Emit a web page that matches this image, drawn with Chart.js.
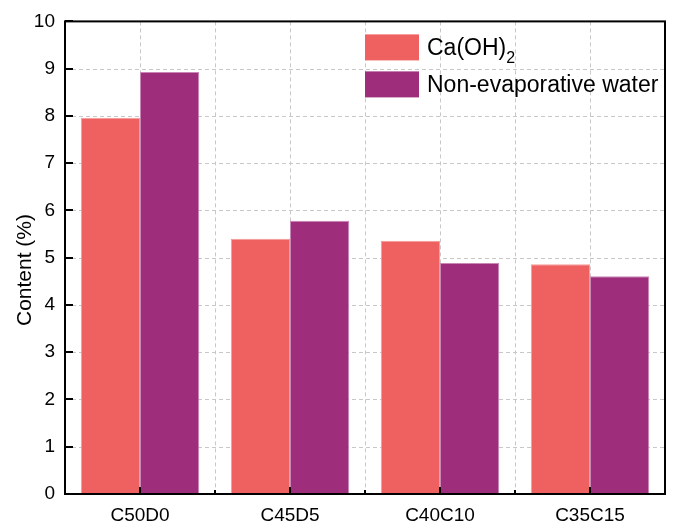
<!DOCTYPE html>
<html>
<head>
<meta charset="utf-8">
<script src="https://cdn.jsdelivr.net/npm/chart.js@4.4.1/dist/chart.umd.min.js"></script>
<style>
  html, body { margin: 0; padding: 0; background: #fff; }
  #wrap { width: 676px; height: 526px; }
</style>
</head>
<body>
<div id="wrap"><canvas id="myChart"></canvas></div>
<script>
// mixes and measured contents
const mixes = ['C50D0', 'C45D5', 'C40C10', 'C35C15'];
const caOH2 = [7.96, 5.40, 5.36, 4.86];
const nonEvapWater = [8.93, 5.78, 4.89, 4.61];
const yTicks = [0, 1, 2, 3, 4, 5, 6, 7, 8, 9, 10];
const yTitle = 'Content (%)';

const FONT = "'Liberation Sans', Arial, sans-serif";
const RED = '#EF6160';
const PURPLE = '#9E2D7C';

// dashed grid behind the bars, frame and inward ticks on top
const framePlugin = {
    id: 'frame',
    beforeDatasetsDraw(chart)
    {
        const ctx = chart.ctx, a = chart.chartArea;
        const x = chart.scales.x, y = chart.scales.y;
        ctx.save();
        ctx.strokeStyle = '#c8c8c8';
        ctx.lineWidth = 1;
        ctx.setLineDash([4, 3]);
        yTicks.slice(1, -1).forEach(v => {
            const py = Math.round(y.getPixelForValue(v)) + 0.5;
            ctx.beginPath(); ctx.moveTo(a.left, py); ctx.lineTo(a.right, py); ctx.stroke();
        });
        const half = (x.getPixelForValue(1) - x.getPixelForValue(0)) / 2;
        mixes.forEach((m, i) => {
            const c = x.getPixelForValue(i);
            [c, c + half].forEach(px => {
                if (px >= a.right - 1) return;
                px = Math.round(px) + 0.5;
                ctx.beginPath(); ctx.moveTo(px, a.top); ctx.lineTo(px, a.bottom); ctx.stroke();
            });
        });
        ctx.restore();
    },
    afterDatasetsDraw(chart)
    {
        const ctx = chart.ctx, a = chart.chartArea;
        const x = chart.scales.x, y = chart.scales.y;
        ctx.save();
        ctx.strokeStyle = '#000';
        ctx.lineWidth = 2;
        ctx.strokeRect(a.left, a.top, a.right - a.left, a.bottom - a.top);
        yTicks.forEach(v => {
            const py = Math.round(y.getPixelForValue(v));
            ctx.beginPath(); ctx.moveTo(a.left, py); ctx.lineTo(a.left + 8, py); ctx.stroke();
        });
        const half = (x.getPixelForValue(1) - x.getPixelForValue(0)) / 2;
        mixes.forEach((m, i) => {
            const c = Math.round(x.getPixelForValue(i));
            ctx.beginPath(); ctx.moveTo(c, a.bottom); ctx.lineTo(c, a.bottom - 7); ctx.stroke();
            const b = Math.round(x.getPixelForValue(i) + half);
            if (b < a.right - 1) {
                ctx.beginPath(); ctx.moveTo(b, a.bottom); ctx.lineTo(b, a.bottom - 4); ctx.stroke();
            }
        });

        // rotated axis title
        ctx.translate(25, 270);
        ctx.rotate(-Math.PI / 2);
        ctx.fillStyle = '#000';
        ctx.font = '21px ' + FONT;
        ctx.textAlign = 'center';
        ctx.textBaseline = 'middle';
        ctx.fillText(yTitle, 0, 0);
        ctx.restore();
    }
};

// legend box in the upper right, with a subscript for Ca(OH)2
const legendPlugin = {
    id: 'cornerLegend',
    afterDraw(chart)
    {
        const ctx = chart.ctx, a = chart.chartArea;
        const x0 = a.right - 300, y0 = a.top + 13;
        ctx.save();
        chart.data.datasets.forEach((ds, i) => {
            const top = y0 + i * 37;
            ctx.fillStyle = ds.backgroundColor;
            ctx.fillRect(x0, top, 54, 26);
            ctx.fillStyle = '#000';
            ctx.font = '23px ' + FONT;
            ctx.textBaseline = 'middle';
            ctx.textAlign = 'left';
            const parts = ds.label.split('_');
            ctx.fillText(parts[0], x0 + 62, top + 14);
            if (parts[1]) {
                const w = ctx.measureText(parts[0]).width;
                ctx.font = '16px ' + FONT;
                ctx.fillText(parts[1], x0 + 62 + w, top + 24);
            }
        });
        ctx.restore();
    }
};

const chart = new Chart(document.getElementById('myChart'),
{
    type: 'bar',
    data:
    {
        labels: mixes,
        datasets:
        [
            {
                label: 'Ca(OH)_2',
                data: caOH2,
                backgroundColor: RED,
                borderColor: '#F59C9A',
                borderWidth: 1,
                borderSkipped: 'bottom'
            },
            {
                label: 'Non-evaporative water',
                data: nonEvapWater,
                backgroundColor: PURPLE,
                borderColor: '#C987B6',
                borderWidth: 1,
                borderSkipped: 'bottom'
            }
        ]
    },
    plugins: [framePlugin, legendPlugin],
    options:
    {
        responsive: true,
        maintainAspectRatio: false,
        animation: false,
        layout: { padding: { top: 17, right: 11, left: 0, bottom: 0 } },
        plugins:
        {
            legend: { display: false },
            tooltip: { enabled: false }
        },
        datasets: { bar: { categoryPercentage: 0.79, barPercentage: 1.0 } },
        scales:
        {
            x:
            {
                offset: true,
                grid: { display: true, drawOnChartArea: false, drawTicks: false },
                border: { display: false },
                ticks: { color: '#000', padding: 10, font: { family: FONT, size: 19 } },
                afterFit: s => { s.height = 32; }
            },
            y:
            {
                min: 0,
                max: 10,
                grid: { display: true, drawOnChartArea: false, drawTicks: false },
                border: { display: false },
                ticks: { stepSize: 1, color: '#000', padding: 10, font: { family: FONT, size: 19 } },
                afterFit: s => { s.width = 65; }
            }
        }
    }
});
</script>
</body>
</html>
